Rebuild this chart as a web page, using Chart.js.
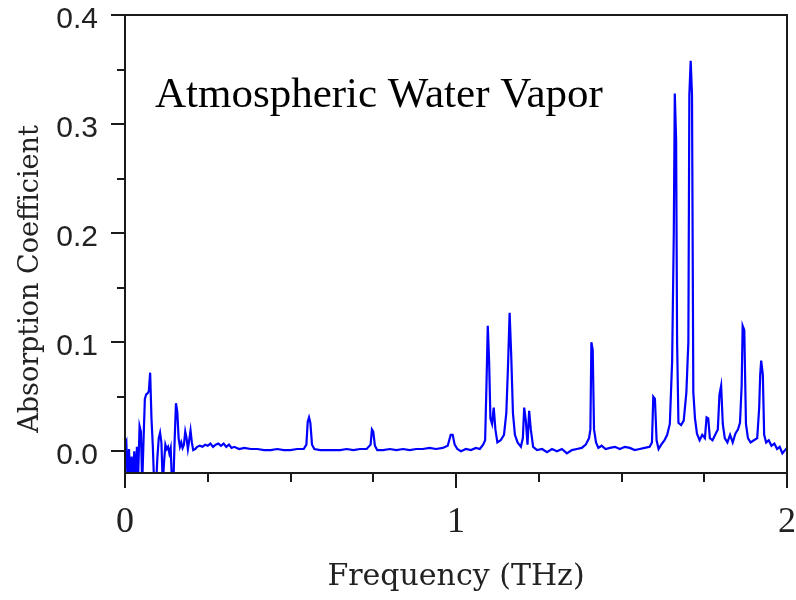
<!DOCTYPE html>
<html>
<head>
<meta charset="utf-8">
<script src="https://cdn.jsdelivr.net/npm/chart.js@4.4.1/dist/chart.umd.min.js"></script>
<style>
  html, body { margin: 0; padding: 0; background: #ffffff; }
  #wrap { width: 796px; height: 600px; position: relative; }
</style>
</head>
<body>
<div id="wrap"><canvas id="c" width="796" height="600"></canvas></div>
<script>
// ---- data ----
const freq = [
  0.000,0.004,0.008,0.012,0.016,0.020,0.024,0.028,0.032,0.036,0.040,0.044,0.048,0.052,0.056,0.060,0.064,0.068,0.072,0.076,
  0.080,0.084,0.088,0.094,0.098,0.102,0.106,0.110,0.114,0.118,0.122,0.126,0.130,0.134,0.138,0.142,0.146,0.150,0.154,0.158,
  0.162,0.166,0.170,0.174,0.178,0.182,0.186,0.190,0.194,0.198,0.202,0.206,0.212,0.218,0.226,0.234,0.242,0.250,0.258,0.266,
  0.274,0.282,0.290,0.298,0.306,0.314,0.322,0.330,0.345,0.360,0.380,0.400,0.420,0.440,0.460,0.480,0.500,0.520,0.540,0.548,
  0.552,0.556,0.560,0.565,0.572,0.590,0.610,0.630,0.650,0.670,0.690,0.710,0.730,0.742,0.746,0.750,0.755,0.762,0.780,0.800,
  0.820,0.840,0.860,0.880,0.900,0.920,0.940,0.960,0.975,0.984,0.990,0.996,1.004,1.015,1.030,1.045,1.060,1.072,1.082,1.088,
  1.092,1.096,1.100,1.104,1.109,1.114,1.119,1.125,1.135,1.145,1.152,1.157,1.162,1.167,1.172,1.178,1.186,1.196,1.202,1.206,
  1.211,1.216,1.221,1.226,1.233,1.245,1.260,1.275,1.290,1.305,1.320,1.335,1.350,1.365,1.380,1.392,1.402,1.406,1.409,1.413,
  1.417,1.423,1.430,1.440,1.452,1.465,1.480,1.495,1.510,1.525,1.540,1.555,1.570,1.585,1.592,1.596,1.601,1.606,1.612,1.620,
  1.630,1.638,1.646,1.653,1.658,1.661,1.665,1.668,1.672,1.680,1.688,1.696,1.702,1.705,1.709,1.713,1.717,1.722,1.728,1.736,
  1.744,1.752,1.757,1.762,1.767,1.775,1.783,1.791,1.796,1.801,1.806,1.812,1.820,1.828,1.836,1.844,1.852,1.858,1.863,1.866,
  1.871,1.876,1.882,1.890,1.900,1.910,1.916,1.919,1.922,1.927,1.931,1.937,1.945,1.953,1.962,1.970,1.978,1.986,1.994,2.000
];
const absorb = [
  0.006,0.009,-0.03,0.002,-0.03,-0.005,-0.03,0.000,-0.03,0.004,-0.02,0.023,0.018,-0.03,0.010,0.048,0.052,0.053,0.055,0.072,
  0.030,0.005,-0.03,-0.03,-0.005,0.012,0.017,0.008,-0.03,-0.01,0.006,0.002,0.004,-0.002,0.003,-0.03,-0.03,0.010,0.044,0.036,
  0.012,0.004,0.008,0.003,0.006,0.018,0.012,0.002,0.010,0.019,0.008,0.001,0.002,0.004,0.005,0.004,0.006,0.005,0.007,0.004,
  0.006,0.007,0.005,0.007,0.004,0.006,0.003,0.004,0.002,0.003,0.002,0.002,0.001,0.001,0.002,0.001,0.001,0.002,0.002,0.006,
  0.027,0.031,0.026,0.006,0.002,0.001,0.001,0.001,0.001,0.002,0.001,0.002,0.002,0.006,0.020,0.018,0.005,0.001,0.001,0.002,
  0.001,0.002,0.001,0.002,0.002,0.003,0.002,0.003,0.005,0.015,0.015,0.006,0.002,0.000,0.002,0.001,0.003,0.002,0.006,0.010,
  0.060,0.115,0.083,0.030,0.025,0.040,0.020,0.008,0.010,0.015,0.035,0.077,0.127,0.086,0.035,0.015,0.008,0.004,0.012,0.040,
  0.028,0.006,0.037,0.020,0.004,0.001,0.002,-0.001,0.002,0.000,0.002,-0.002,0.001,0.002,0.003,0.006,0.012,0.020,0.100,0.093,
  0.020,0.008,0.003,0.005,0.002,0.003,0.004,0.002,0.004,0.003,0.001,0.002,0.003,0.004,0.008,0.050,0.048,0.010,0.002,0.006,
  0.010,0.015,0.025,0.083,0.200,0.328,0.285,0.100,0.026,0.024,0.028,0.054,0.100,0.327,0.358,0.327,0.054,0.030,0.016,0.010,
  0.015,0.012,0.031,0.030,0.012,0.010,0.015,0.020,0.052,0.060,0.025,0.012,0.008,0.015,0.008,0.016,0.020,0.026,0.060,0.115,
  0.111,0.025,0.012,0.008,0.010,0.012,0.040,0.070,0.083,0.070,0.015,0.008,0.010,0.005,0.007,0.002,0.004,-0.002,0.001,0.003
];
const yMajorTicks = [0, 0.1, 0.2, 0.3, 0.4];
const yMinorTicks = [0.05, 0.15, 0.25, 0.35];
const xMajorTicks = [0, 1, 2];
const xMinorTicks = [0.25, 0.5, 0.75, 1.25, 1.5, 1.75];
const chartTitle = 'Atmospheric Water Vapor';
const xTitle = 'Frequency (THz)';
const yTitle = 'Absorption Coefficient';

const points = freq.map((f, i) => ({ x: f, y: absorb[i] }));

const framePlugin = {
  id: 'frame',
  afterDraw(chart) {
    const ctx = chart.ctx;
    const a = chart.chartArea;
    const xs = chart.scales.x, ys = chart.scales.y;
    ctx.save();
    ctx.strokeStyle = '#1a1a1a';
    ctx.lineWidth = 2;
    ctx.lineCap = 'butt';
    ctx.strokeRect(a.left, a.top, a.right - a.left, a.bottom - a.top);
    ctx.beginPath();
    yMajorTicks.forEach(v => { const p = Math.round(ys.getPixelForValue(v)); ctx.moveTo(a.left - 14, p); ctx.lineTo(a.left, p); });
    yMinorTicks.forEach(v => { const p = Math.round(ys.getPixelForValue(v)); ctx.moveTo(a.left - 8, p); ctx.lineTo(a.left, p); });
    xMajorTicks.forEach(v => { const p = Math.round(xs.getPixelForValue(v)); ctx.moveTo(p, a.bottom); ctx.lineTo(p, a.bottom + 15); });
    xMinorTicks.forEach(v => { const p = Math.round(xs.getPixelForValue(v)); ctx.moveTo(p, a.bottom); ctx.lineTo(p, a.bottom + 9); });
    ctx.stroke();
    ctx.fillStyle = '#000';
    ctx.font = '43px "Liberation Serif", "Times New Roman", serif';
    ctx.textAlign = 'left';
    ctx.textBaseline = 'alphabetic';
    ctx.fillText(chartTitle, 155, 107);
    ctx.font = '27px "DejaVu Serif", serif';
    ctx.translate(38, 279);
    ctx.rotate(-Math.PI / 2);
    ctx.textAlign = 'center';
    ctx.fillStyle = '#222';
    ctx.fillText(yTitle, 0, 0);
    ctx.restore();
    ctx.save();
    ctx.font = '30px "DejaVu Serif", serif';
    ctx.fillStyle = '#222';
    ctx.textAlign = 'center';
    ctx.textBaseline = 'alphabetic';
    ctx.fillText(xTitle, (a.left + a.right) / 2, 585);
    ctx.restore();
  }
};

function noEdgePadding(s) {
  s.paddingLeft = 0; s.paddingRight = 0; s.paddingTop = 0; s.paddingBottom = 0;
}

new Chart(document.getElementById('c'), {
  type: 'line',
  data: {
    datasets: [{
      data: points,
      borderColor: '#0000ff',
      borderWidth: 2.2,
      pointRadius: 0,
      tension: 0,
      fill: false
    }]
  },
  options: {
    responsive: false,
    animation: false,
    layout: { padding: { top: 15, right: 9, left: 0, bottom: 0 } },
    plugins: { legend: { display: false }, tooltip: { enabled: false } },
    scales: {
      x: {
        type: 'linear',
        min: 0, max: 2,
        afterBuildTicks: s => { s.ticks = xMajorTicks.map(v => ({ value: v })); },
        afterFit: s => { s.height = 127; noEdgePadding(s); },
        grid: { display: false, drawTicks: false },
        border: { display: false },
        ticks: {
          padding: 28,
          color: '#222',
          maxRotation: 0,
          font: { family: '"Liberation Serif", serif', size: 36 },
          callback: v => String(v)
        }
      },
      y: {
        type: 'linear',
        min: -0.02, max: 0.4,
        afterBuildTicks: s => { s.ticks = yMajorTicks.map(v => ({ value: v })); },
        afterFit: s => { s.width = 125; noEdgePadding(s); },
        grid: { display: false, drawTicks: false },
        border: { display: false },
        ticks: {
          padding: 27,
          labelOffset: 5,
          color: '#222',
          font: { family: '"Liberation Sans", sans-serif', size: 30 },
          callback: v => v.toFixed(1)
        }
      }
    }
  },
  plugins: [framePlugin]
});
</script>
</body>
</html>
